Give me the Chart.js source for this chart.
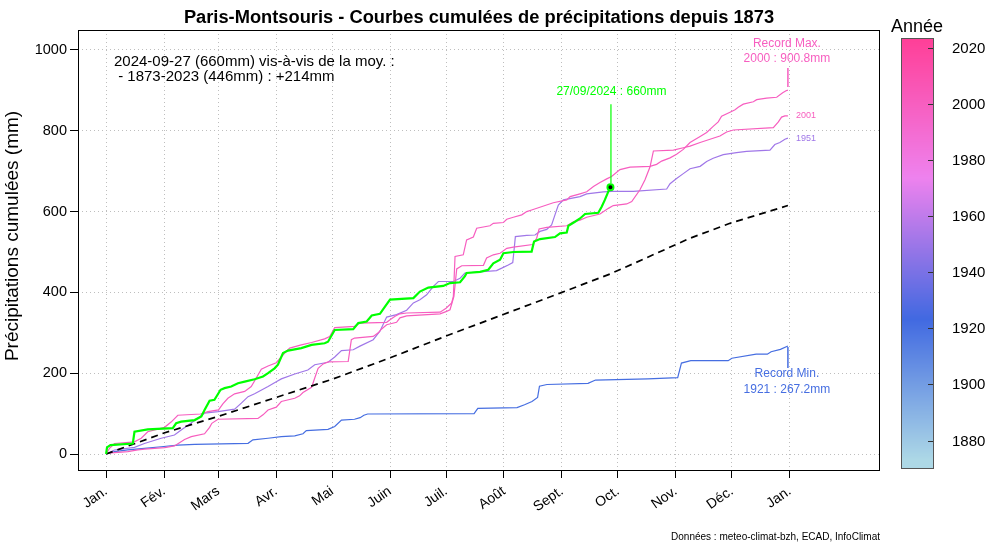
<!DOCTYPE html>
<html lang="fr">
<head>
<meta charset="utf-8">
<title>Paris-Montsouris - Courbes cumulées de précipitations</title>
<script src="https://cdn.jsdelivr.net/npm/chart.js@4.4.1/dist/chart.umd.min.js"></script>
<style>
html,body{margin:0;padding:0;background:#ffffff;overflow:hidden;}
canvas{display:block;}
</style>
</head>
<body>
<canvas id="chart" width="1000" height="545" style="width:1000px;height:545px"></canvas>
<script>
// ---------------- data ----------------
const monthDays   = [0, 31, 60, 91, 121, 152, 182, 213, 244, 274, 305, 335, 366];
const monthLabels = ['Jan.', 'Fév.', 'Mars', 'Avr.', 'Mai', 'Juin', 'Juil.', 'Août', 'Sept.', 'Oct.', 'Nov.', 'Déc.', 'Jan.'];
const yTickValues = [0, 200, 400, 600, 800, 1000];
const colorbarYears = [1880, 1900, 1920, 1940, 1960, 1980, 2000, 2020];

// 2024 (to 27 Sept)
const days2024 = [0,0.5,2.3,14.3,15.2,22.3,35.7,37.5,40.2,47.4,51,52.7,55.4,58,61.3,63.4,67,70.6,74.2,79.5,84,86.7,90.2,92,94.7,97.4,104.5,110,117,118.8,122.4,132.3,135,139.5,142.2,146.6,149.3,152,164.5,168,172.5,180.5,184.1,189.5,192.1,193,200.2,204.6,207.3,210.9,212.7,218,227.8,229.1,232.3,240.3,243,246.6,247.5,251,253.7,256.4,263.5,265.3,267,268.9,270];
const vals2024 = [0,16.5,22,26,55,61,64,76,80,84,93,109,132,134,159,163,167,175,179,185,192,200,212,221,250,256,262,270,274,278,307,309,324,328,343,347,365,382,386,402,412,416,423,425,440,448,451,456,472,481,497,500,501,526,532,537,546,548,565,575,583,594,597,612,629,650,660];

// mean 1873-2023
const daysMean = [0,31,60,91,121,152,182,213,244,270,289,312,334,365];
const valsMean = [0,52,93,140,185,238,292,346,400,446,485,533,571,615];

// 2000 (record max)
const days2000 = [0,1.8,4.5,15.2,18.8,22.3,31.3,34.8,38.4,50.6,54.5,60.2,62.5,65.2,68.8,74.2,77.7,80.4,83.1,86.7,91.1,95.6,98.3,104.5,110,117,119.7,122.4,133,135.9,150.2,152,154.7,157.3,160.9,178.8,182,185,185.9,186.8,191.2,193,196.6,198.4,205.5,207.3,212.7,214.5,218,222.5,225.2,227.8,239.4,246.6,248.4,253.7,257.3,260.9,264.4,268,270.6,275.1,280.5,291.2,294.7,297.4,301.9,305.4,309,312.6,318,321.5,325,327.7,329.5,334,336.7,338.4,341.1,346.5,348.3,353.6,359,362.2,364,365];
const vals2000 = [0,14,26,30,39,55,66,79,96,99,105,109,124,138,149,155,167,188,210,218,226,250,262,270,276,285,291,313,316,324,326,332.5,341,347,349,351,361,374,390,489,493,530,537,559,565,571,573,581,586,592,600,604,622,629,637,644,649,662,672,681,687,704,710,712,717,725,733,742,754,771,786,796,811,822,836,846,852,858,866,872,877,881,883,894,899,900.8];

// 2001
const days2001 = [0,2.7,11.6,17,20.5,31.3,36.6,39.3,42,45.6,52.7,55.4,56.6,59.9,81.3,84,86.7,91.1,93.8,101,103.6,105.4,110,111.7,113.5,116.2,118.8,129.6,131.3,133,143,145.7,147.5,150.2,155.5,157.3,160.9,178.8,182.3,184.1,186.2,187.7,190.4,202,203.7,207.3,210.9,214.5,218,228.4,230.5,231.8,235.9,246.6,250.2,253.7,257.3,264.4,268.9,271.5,278.7,281.4,285.8,288.5,291.2,293,303.7,309,312.6,318,323.3,328.6,332.2,335.8,357.2,359.9,361.6,363.4,365];
const vals2001 = [0,3,6,10,12,16,20,28,36,43,50,66,76,86,88,97,109,116,130,138,144,152,165,188,212,223,228,229,283,287,291,300,309.5,320,326,337,342,347,353,357,390,458,466,467,485,493,497,509,512,518.5,534,557,561,565,575,579,586,594,608,615,619,625,654,679,711,750,752,758,762,771,779,787,797,802,808,822,834,837,837];

// 1951
const days1951 = [0,4.5,15.2,20.5,29.5,36.6,40.2,47.4,52.7,59.9,68.8,72.4,76,79.5,86.7,91.1,93.8,101,108,111.7,118.8,122.4,126,132.3,135.9,143,146.6,150.2,155.5,160.9,164.5,168,171.6,175.2,177.9,185.9,189.5,192.1,209,211.8,215.3,217.7,218.4,219.1,225.2,229.6,232.3,235.9,238.5,240.3,242.1,244.8,253.7,257.3,266.2,270.6,282.2,300.1,301.9,305.4,309,312.6,318,321.5,325,330.4,337.5,342.9,355.4,358,360.7,363.4,365];
const vals1951 = [0,10,16.5,26,39,47,59.5,83,101,105,111,126,142,149,167,179,186,198,208,221,227,240,256,258,267,283,304,339,345,356,374,382,394,415,427,427,435,448,454,460,468,474,505,538,541,542,551,556,567,592,616,629,637,644,649,650,650,656,669,682,694,706,712,724,732,741,746,749,752,766,771,779,782];

// 1921 (record min)
const days1921 = [0,4.5,11.6,20.5,29.5,38.4,47.4,76,78.6,86.7,93.8,101,105.4,107.2,118.8,122.4,126,133,136,138,140,197,199,220,224,228,231,232,236,258,262,290,306,308,313,333,335,348,354,356,361,365];
const vals1921 = [0,6,10,14,18,22,24,26.4,35,39,43,45,50,58,61,68,84,86,90,96,99,100,113,115,122,130,140,168,172,175,183,186,189,225,231,231,237,247,247,253,259,267.2];

const currentDate = '2024-09-27', currentLabel = '27/09/2024';
const currentDay = 270, currentVal = 660, currentMean = 446;
const endDay = 365;
const recordMaxYear = 2000, recordMaxVal = 900.8;
const recordMinYear = 1921, recordMinVal = 267.2;

// ---------------- styles ----------------
const FONT = "'Liberation Sans', Arial, Helvetica, sans-serif";
const paletteStops = [[1873, [173,216,230]], [1923.33, [65,105,225]], [1973.67, [238,130,238]], [2024, [255,62,150]]];
function yearColor(yr) {
  if (yr <= paletteStops[0][0]) return 'rgb(' + paletteStops[0][1].join(',') + ')';
  for (let i = 1; i < paletteStops.length; i++) {
    if (yr <= paletteStops[i][0]) {
      const [y0, c0] = paletteStops[i-1], [y1, c1] = paletteStops[i];
      const t = (yr - y0) / (y1 - y0);
      return 'rgb(' + c0.map((c, k) => Math.round(c + (c1[k] - c) * t)).join(',') + ')';
    }
  }
  return 'rgb(' + paletteStops[paletteStops.length-1][1].join(',') + ')';
}
const GREEN = '#00ff00';
const GRID = 'rgba(190,190,190,1)';

const pts = (d, v) => d.map((x, i) => ({x: x, y: v[i]}));
const lineDs = (label, d, v, color, w, extra) => Object.assign({
  label, data: pts(d, v), borderColor: color, borderWidth: w,
  pointRadius: 0, fill: false, tension: 0
}, extra || {});

// ---------------- overlay plugin ----------------
const overlay = {
  id: 'overlay',
  afterDraw(chart) {
    const {ctx, chartArea: a, scales: {x, y}} = chart;
    ctx.save();
    // frame
    ctx.strokeStyle = '#000'; ctx.lineWidth = 1; ctx.setLineDash([]);
    ctx.strokeRect(a.left + 0.5, a.top + 0.5, a.right - a.left - 1, a.bottom - a.top);

    // title
    ctx.fillStyle = '#000';
    ctx.textAlign = 'center'; ctx.textBaseline = 'middle';
    ctx.font = 'bold 18.3px ' + FONT;
    ctx.fillText('Paris-Montsouris - Courbes cumulées de précipitations depuis 1873', (a.left + a.right) / 2, 18);

    // y axis title
    ctx.save();
    ctx.translate(13, 236);
    ctx.rotate(-Math.PI / 2);
    ctx.font = '19px ' + FONT;
    ctx.fillText('Précipitations cumulées (mm)', 0, 0);
    ctx.restore();

    // top-left annotation
    ctx.textAlign = 'left';
    ctx.font = '15px ' + FONT;
    ctx.fillText(currentDate + ' (' + currentVal + 'mm) vis-à-vis de la moy. :', 114, 62);
    ctx.fillText(' - 1873-2023 (' + currentMean + 'mm) : +' + (currentVal - currentMean) + 'mm', 114, 77);

    // record max
    const xe = x.getPixelForValue(endDay);
    const yMax = y.getPixelForValue(recordMaxVal);
    const cMax = yearColor(recordMaxYear);
    ctx.strokeStyle = cMax; ctx.lineWidth = 1.5;
    ctx.beginPath(); ctx.moveTo(xe, yMax - 3); ctx.lineTo(xe, yMax - 22); ctx.stroke();
    ctx.fillStyle = cMax; ctx.textAlign = 'center'; ctx.font = '12px ' + FONT;
    ctx.fillText('Record Max.', xe - 1, yMax - 46);
    ctx.fillText(recordMaxYear + ' : ' + recordMaxVal.toFixed(1) + 'mm', xe - 1, yMax - 31);

    // record min
    const yMin = y.getPixelForValue(recordMinVal);
    const cMin = yearColor(recordMinYear);
    ctx.strokeStyle = cMin; ctx.lineWidth = 1.5;
    ctx.beginPath(); ctx.moveTo(xe, yMin + 1); ctx.lineTo(xe, yMin + 22); ctx.stroke();
    ctx.fillStyle = cMin;
    ctx.fillText('Record Min.', xe - 1, yMin + 28);
    ctx.fillText(recordMinYear + ' : ' + recordMinVal.toFixed(1) + 'mm', xe - 1, yMin + 44);

    // end labels 2001 / 1951
    ctx.textAlign = 'left'; ctx.font = '9px ' + FONT;
    ctx.fillStyle = yearColor(2001);
    ctx.fillText('2001', xe + 8, y.getPixelForValue(vals2001[vals2001.length - 1]));
    ctx.fillStyle = yearColor(1951);
    ctx.fillText('1951', xe + 8, y.getPixelForValue(vals1951[vals1951.length - 1]));

    // current point label
    const xp = x.getPixelForValue(currentDay), yp = y.getPixelForValue(currentVal);
    ctx.strokeStyle = GREEN; ctx.lineWidth = 1.2;
    ctx.beginPath(); ctx.moveTo(xp + 0.5, yp - 4); ctx.lineTo(xp + 0.5, yp - 83); ctx.stroke();
    ctx.fillStyle = GREEN; ctx.textAlign = 'center'; ctx.font = '12px ' + FONT;
    ctx.fillText(currentLabel + ' : ' + currentVal + 'mm', xp + 1, yp - 96);

    // colour bar
    const cb = {x: 901, w: 33, top: 38, bottom: 469, y2020: 48, y1880: 440.5};
    const pxPerYear = (cb.y1880 - cb.y2020) / 140;
    for (let py = cb.top; py < cb.bottom; py++) {
      const yr = 2020 - (py + 0.5 - cb.y2020) / pxPerYear;
      ctx.fillStyle = yearColor(yr);
      ctx.fillRect(cb.x, py, cb.w, 1);
    }
    ctx.strokeStyle = '#555'; ctx.lineWidth = 1;
    ctx.strokeRect(cb.x + 0.5, cb.top + 0.5, cb.w - 1, cb.bottom - cb.top - 1);
    ctx.fillStyle = '#000'; ctx.textAlign = 'left'; ctx.font = '15px ' + FONT;
    ctx.strokeStyle = '#333';
    colorbarYears.forEach(yr => {
      const py = Math.round(cb.y2020 + (2020 - yr) * pxPerYear) + 0.5;
      ctx.beginPath(); ctx.moveTo(cb.x + cb.w - 6, py); ctx.lineTo(cb.x + cb.w - 1, py); ctx.stroke();
      ctx.fillText(String(yr), 952, py);
    });
    ctx.textAlign = 'center'; ctx.font = '18px ' + FONT;
    ctx.fillText('Année', 917, 27);

    // credits
    ctx.textAlign = 'right'; ctx.font = '10px ' + FONT;
    ctx.fillText('Données : meteo-climat-bzh, ECAD, InfoClimat', a.right, 537);
    ctx.restore();
  }
};

Chart.defaults.font.family = FONT;
Chart.defaults.color = '#000';

new Chart(document.getElementById('chart'), {
  type: 'line',
  data: {
    datasets: [
      {label: 'point', data: [{x: currentDay, y: currentVal}], showLine: false,
       pointRadius: 3, pointBackgroundColor: '#000', pointBorderColor: GREEN, pointBorderWidth: 2},
      lineDs('2024', days2024, vals2024, GREEN, 2.2),
      lineDs('Moyenne 1873-2023', daysMean, valsMean, '#000', 1.7, {borderDash: [7, 5]}),
      lineDs('2000', days2000, vals2000, yearColor(2000), 1.2),
      lineDs('2001', days2001, vals2001, yearColor(2001), 1.2),
      lineDs('1951', days1951, vals1951, yearColor(1951), 1.2),
      lineDs('1921', days1921, vals1921, yearColor(1921), 1.2)
    ]
  },
  options: {
    responsive: false,
    animation: false,
    devicePixelRatio: 1,
    layout: {padding: {left: 0, top: 30, right: 120, bottom: 0}},
    plugins: {legend: {display: false}, tooltip: {enabled: false}, title: {display: false}},
    scales: {
      x: {
        type: 'linear', min: -15.04, max: 414.3,
        afterBuildTicks: s => { s.ticks = monthDays.map(v => ({value: v})); },
        afterFit: s => { s.height = 75; },
        ticks: {autoSkip: false, minRotation: 35, maxRotation: 35, padding: 5,
                font: {size: 14}, color: '#000',
                callback: (v, i) => monthLabels[i]},
        grid: {color: GRID, lineWidth: 1, drawTicks: true, tickLength: 8, tickColor: '#000', tickWidth: 1},
        border: {display: false, dash: [1, 3]}
      },
      y: {
        type: 'linear', min: -39.6, max: 1049.5,
        afterBuildTicks: s => { s.ticks = yTickValues.map(v => ({value: v})); },
        afterFit: s => { s.width = 78; },
        ticks: {padding: 3, font: {size: 14.5}, color: '#000', callback: v => String(v)},
        grid: {color: GRID, lineWidth: 1, drawTicks: true, tickLength: 8, tickColor: '#000', tickWidth: 1},
        border: {display: false, dash: [1, 3]}
      }
    }
  },
  plugins: [overlay]
});
</script>
</body>
</html>
